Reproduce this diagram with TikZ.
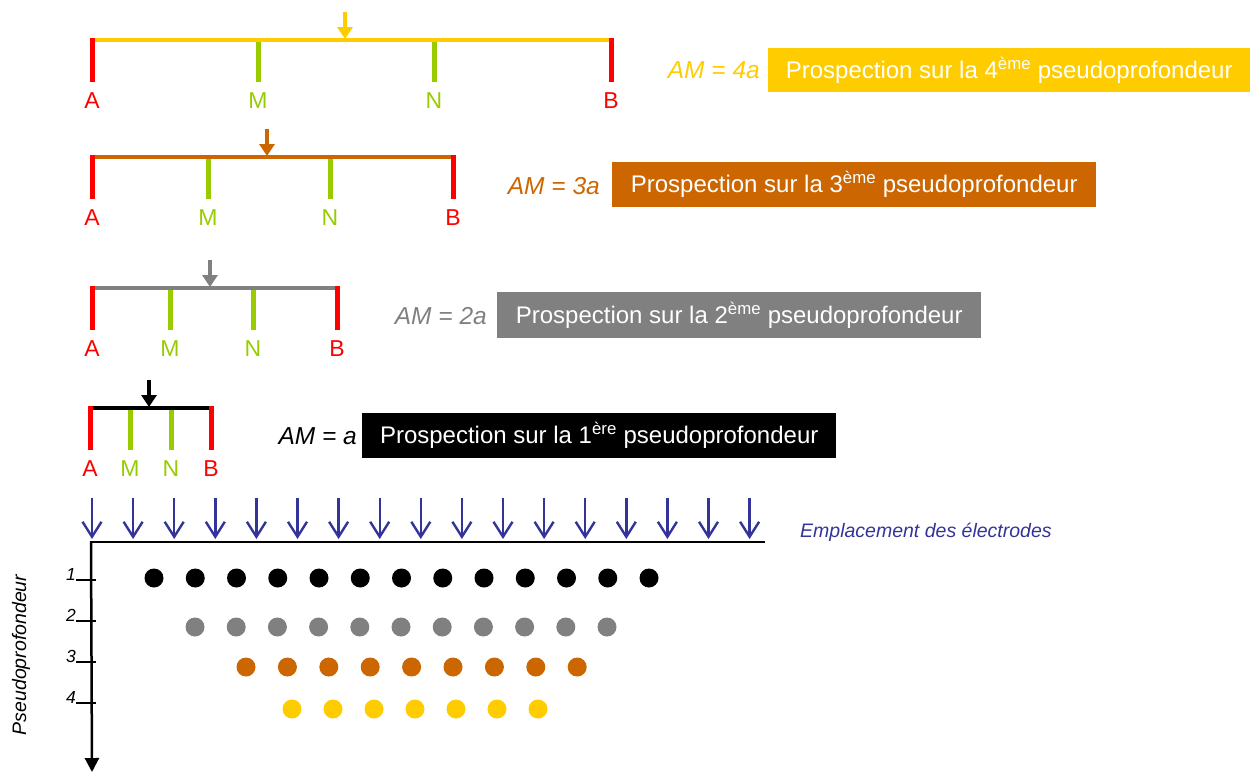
\documentclass[tikz,border=0pt]{standalone}
\usepackage{fontspec}
\setmainfont{Liberation Sans}
\usetikzlibrary{arrows.meta}
\definecolor{cyel}{HTML}{FFCC00}
\definecolor{corg}{HTML}{CC6600}
\definecolor{cgry}{HTML}{808080}
\definecolor{cred}{HTML}{FF0000}
\definecolor{cgrn}{HTML}{99CC00}
\definecolor{cblu}{HTML}{333399}
\tikzset{
  electrode/.style={line width=5pt},
  elabel/.style={font=\fontsize{23}{25}\selectfont, inner sep=0pt},
  bar/.style={line width=4.5pt},
  injarrow/.style={line width=4.5pt, -{Triangle[width=15pt,length=12pt]}},
  amlabel/.style={font=\fontsize{24.5}{26}\selectfont\itshape, anchor=east, inner sep=0pt},
  pbox/.style={text=white, font=\fontsize{24}{26}\selectfont, inner sep=0pt, anchor=north west},
  dot/.style={circle, inner sep=0pt, minimum size=19pt},
  earrow/.style={cblu, line width=2.4pt, -{Straight Barb[width=19pt,length=15pt,line width=2.4pt]}},
  depthlbl/.style={font=\fontsize{17.5}{19}\selectfont\itshape, inner sep=0pt},
}
\begin{document}
\begin{tikzpicture}[x=1pt,y=-1pt]
\useasboundingbox (0,0) rectangle (1252,772);

% ---- arrays ----
\foreach \n/\col/\y/\xa/\xm/\xnn/\xb/\xarr/\xl/\xr in {
  four/cyel/40/92/258/434/611/345/92/611,
  three/corg/157/92/208/330/453/267/92/454,
  two/cgry/288/92/170/253/337/210/92/337,
  one/black/408/90/130/171/211/149/88/212}{
  \coordinate (\n-bl) at (\xl,\y);
  \coordinate (\n-br) at (\xr,\y);
  \draw[bar,\col] (\n-bl) -- (\n-br);
  \coordinate (\n-at) at (\xa,\y-2);
  \coordinate (\n-ab) at (\xa,\y+42);
  \coordinate (\n-mt) at (\xm,\y+2);
  \coordinate (\n-mb) at (\xm,\y+42);
  \coordinate (\n-nt) at (\xnn,\y+2);
  \coordinate (\n-nb) at (\xnn,\y+42);
  \coordinate (\n-bt) at (\xb,\y-2);
  \coordinate (\n-bb) at (\xb,\y+42);
  \draw[electrode,cred] (\n-at) -- (\n-ab);
  \draw[electrode,cgrn] (\n-mt) -- (\n-mb);
  \draw[electrode,cgrn] (\n-nt) -- (\n-nb);
  \draw[electrode,cred] (\n-bt) -- (\n-bb);
  \node[elabel,text=cred] (\n-A) at (\xa,\y+60.5) {A};
  \node[elabel,text=cgrn] (\n-M) at (\xm,\y+60.5) {M};
  \node[elabel,text=cgrn] (\n-N) at (\xnn,\y+60.5) {N};
  \node[elabel,text=cred] (\n-B) at (\xb,\y+60.5) {B};
  \coordinate (\n-it) at (\xarr,\y-28);
  \coordinate (\n-ib) at (\xarr,\y-1);
  \draw[injarrow,\col] (\n-it) -- (\n-ib);
}

% ---- AM labels and boxes ----
\node[amlabel,text=cyel] (am4) at (760,70) {AM = 4a};
\node[pbox,fill=cyel,minimum width=482pt,minimum height=44pt] (p4) at (768,48) {Prospection sur la 4\textsuperscript{ème} pseudoprofondeur};
\node[amlabel,text=corg] (am3) at (600,186) {AM = 3a};
\node[pbox,fill=corg,minimum width=484pt,minimum height=45pt] (p3) at (612,162) {Prospection sur la 3\textsuperscript{ème} pseudoprofondeur};
\node[amlabel,text=cgry] (am2) at (487,316) {AM = 2a};
\node[pbox,fill=cgry,minimum width=484pt,minimum height=46pt] (p2) at (497,292) {Prospection sur la 2\textsuperscript{ème} pseudoprofondeur};
\node[amlabel,text=black] (am1) at (357,436) {AM = a};
\node[pbox,fill=black,minimum width=474pt,minimum height=45pt] (p1) at (362,413) {Prospection sur la 1\textsuperscript{ère} pseudoprofondeur};

% ---- electrode position arrows ----
\foreach \i in {0,...,16}{
  \coordinate (ea\i) at ({92+41.1*\i},498);
  \coordinate (eb\i) at ({92+41.1*\i},539);
  \draw[earrow] (ea\i) -- (eb\i);
}
\node[font=\fontsize{19.5}{21}\selectfont\itshape, text=cblu, anchor=west, inner sep=0pt] (empl) at (800,532) {Emplacement des électrodes};

% ---- axes ----
\coordinate (origin) at (90,542);
\coordinate (xend) at (765,542);
\coordinate (yend) at (92,772);
\draw[line width=2.5pt] (origin) -- (xend);
\draw[line width=2.5pt, -{Triangle[width=14pt,length=14pt]}] (91,541) -- (yend);
\foreach \k/\ty in {1/580,2/621,3/662,4/703}{
  \coordinate (t\k a) at (76,\ty);
  \coordinate (t\k b) at (96,\ty);
  \draw[line width=1.8pt] (t\k a) -- (t\k b);
  \node[depthlbl, anchor=south east] (d\k) at (76,\ty+1) {\k};
}
\node[font=\fontsize{19.5}{21}\selectfont\itshape, rotate=90, inner sep=0pt] (pp) at (21,655) {Pseudoprofondeur};

% ---- dots ----
\foreach \i in {0,...,12}{ \node[dot,fill=black] (r1-\i) at ({154+41.25*\i},578) {}; }
\foreach \i in {0,...,10}{ \node[dot,fill=cgry] (r2-\i) at ({195+41.2*\i},627) {}; }
\foreach \i in {0,...,8}{ \node[dot,fill=corg] (r3-\i) at ({246+41.4*\i},667) {}; }
\foreach \i in {0,...,6}{ \node[dot,fill=cyel] (r4-\i) at ({292+41*\i},709) {}; }
\end{tikzpicture}
\end{document}
